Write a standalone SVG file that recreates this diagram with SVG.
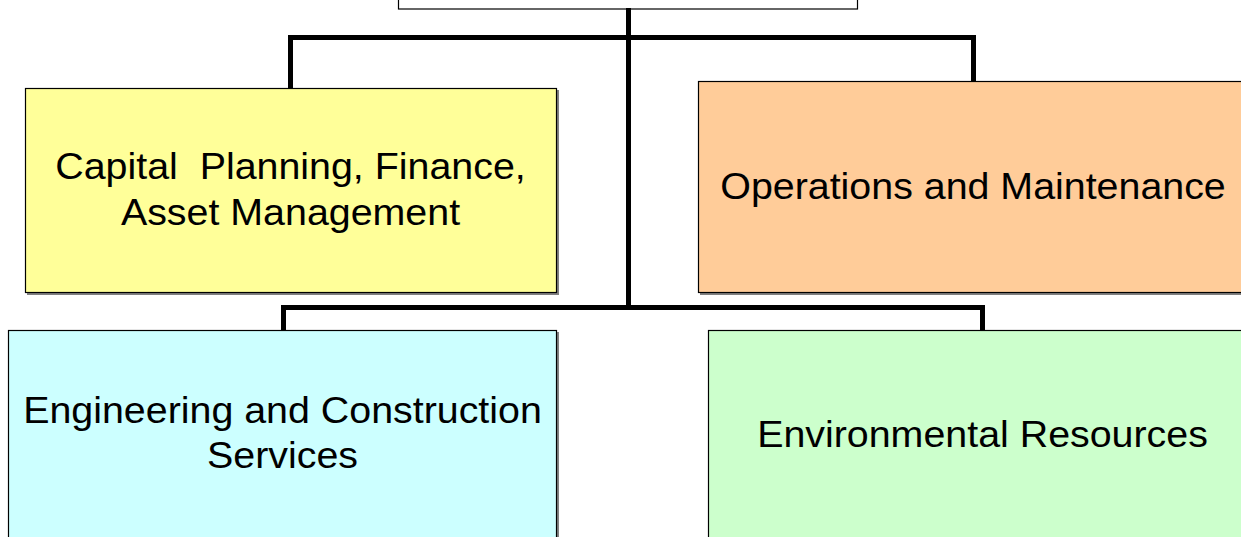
<svg xmlns="http://www.w3.org/2000/svg" width="1241" height="537" viewBox="0 0 1241 537">
<style>
.box{stroke:#000;stroke-width:1.2}
.shadow{fill:#808080}
.lbl{font-family:"Liberation Sans",Arial,sans-serif;font-size:37.5px;fill:#000;text-anchor:middle;white-space:pre}
.conn{fill:none;stroke:#000;stroke-width:5;stroke-linejoin:miter}
</style>
<rect width="1241" height="537" fill="#fff"/>
<g id="top">
<rect x="398.5" y="-20" width="459" height="29" fill="#fff" class="box"/>
</g>
<g id="capital">
<rect x="27" y="90" width="532" height="205" class="shadow"/>
<rect x="25.5" y="88.5" width="531" height="204" fill="#ffff99" class="box"/>
<g transform="translate(290.5,0) scale(1.05,1)">
<text class="lbl" xml:space="preserve" x="0" y="179">Capital  Planning, Finance,</text>
<text class="lbl" x="0" y="225">Asset Management</text>
</g>
</g>
<g id="operations">
<rect x="700" y="83" width="560" height="212" class="shadow"/>
<rect x="698.5" y="81.5" width="560" height="211" fill="#ffcc99" class="box"/>
<g transform="translate(973,0) scale(1.05,1)">
<text class="lbl" x="0" y="199">Operations and Maintenance</text>
</g>
</g>
<g id="engineering">
<rect x="10" y="332" width="549" height="220" class="shadow"/>
<rect x="8.5" y="330.5" width="548" height="220" fill="#ccffff" class="box"/>
<g transform="translate(282.5,0) scale(1.05,1)">
<text class="lbl" x="0" y="423">Engineering and Construction</text>
<text class="lbl" x="0" y="468">Services</text>
</g>
</g>
<g id="environmental">
<rect x="710" y="332" width="560" height="220" class="shadow"/>
<rect x="708.5" y="330.5" width="560" height="220" fill="#ccffcc" class="box"/>
<g transform="translate(982.5,0) scale(1.05,1)">
<text class="lbl" x="0" y="447">Environmental Resources</text>
</g>
</g>
<g id="connectors">
<path class="conn" d="M628.5,8 V306"/>
<path class="conn" d="M290.5,88 V37.5 H973.5 V81"/>
<path class="conn" d="M283.5,330 V307.5 H982.5 V330"/>
</g>
</svg>
